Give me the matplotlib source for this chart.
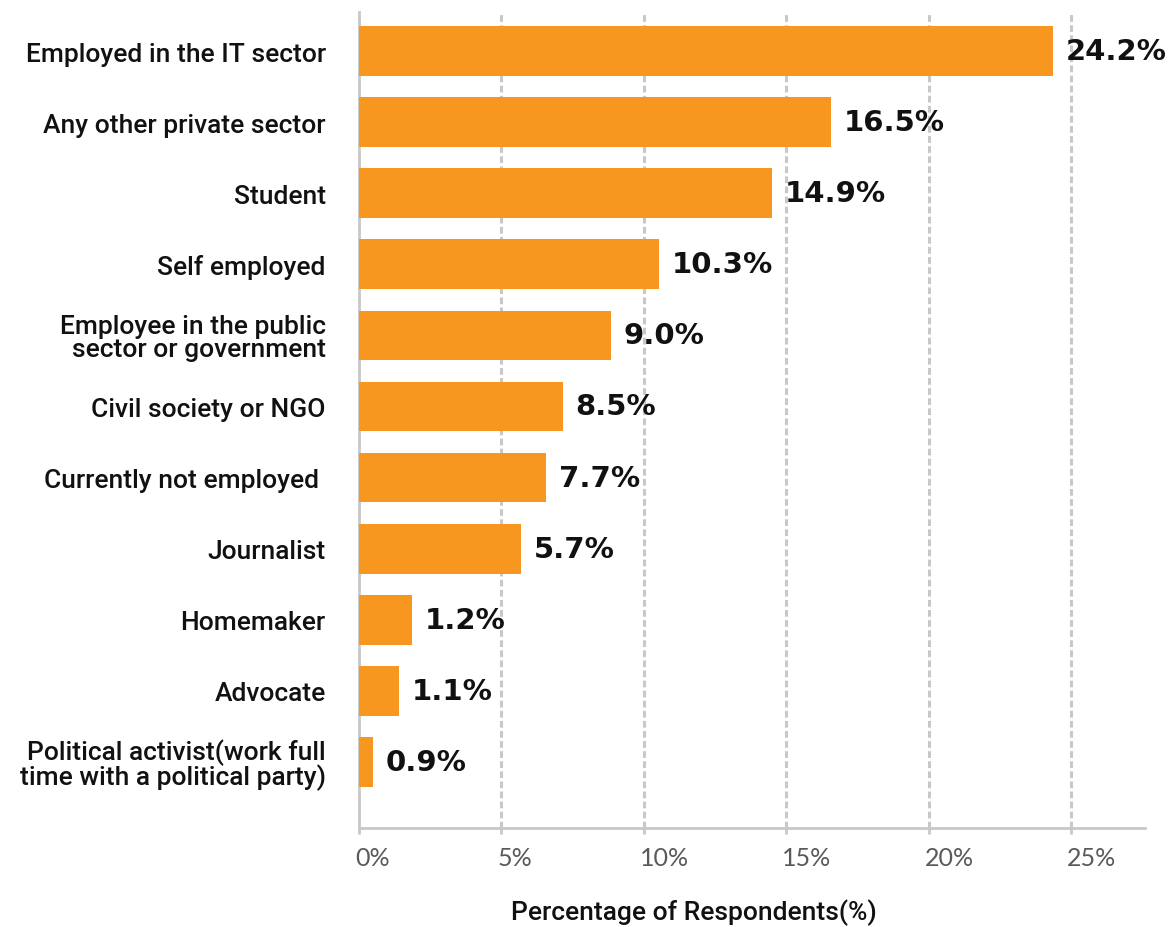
import matplotlib
matplotlib.use("Agg")
import matplotlib.pyplot as plt
import matplotlib.transforms as mtransforms

categories = [
    "Employed in the IT sector",
    "Any other private sector",
    "Student",
    "Self employed",
    "Employee in the public\nsector or government",
    "Civil society or NGO",
    "Currently not employed ",
    "Journalist",
    "Homemaker",
    "Advocate",
    "Political activist(work full\ntime with a political party)",
]
bar_values = [24.37, 16.57, 14.50, 10.53, 8.85, 7.16, 6.57, 5.69, 1.86, 1.40, 0.49]
value_labels = ["24.2%", "16.5%", "14.9%", "10.3%", "9.0%", "8.5%", "7.7%", "5.7%", "1.2%", "1.1%", "0.9%"]
xticks = [0, 5, 10, 15, 20, 25]
xtick_labels = ["0%", "5%", "10%", "15%", "20%", "25%"]

fig = plt.figure(figsize=(11.69, 9.28), dpi=100)
ax = fig.add_axes([359/1169, 1-829/928, (1145-359)/1169, (829-13)/928])

ypos = list(range(len(categories)))
ax.barh(ypos, bar_values, height=0.70, color="#F7971F", zorder=3)
ax.set_ylim(len(categories) - 0.07, -0.55)
ax.set_xlim(0, 27.6)

grid_color = "#c8c8c8"
for t in xticks[1:]:
    ax.axvline(t, color=grid_color, lw=2.2, linestyle=(0, (2.2, 1.1)), zorder=1)

for sp in ["top", "right"]:
    ax.spines[sp].set_visible(False)
for sp in ["left", "bottom"]:
    ax.spines[sp].set_color(grid_color)
    ax.spines[sp].set_linewidth(2)

ax.set_yticks(ypos)
ax.set_yticklabels(categories, fontsize=19, family="Roboto", fontweight="medium",
                   color="#111111", linespacing=0.95)
ax.tick_params(axis="y", length=0, pad=24)

ax.set_xticks(xticks)
ax.set_xticklabels(xtick_labels, fontsize=18, family="Lato", fontweight="normal", color="#5a5a5a")
ax.tick_params(axis="x", length=4, width=2, color=grid_color, pad=9)
offset = mtransforms.ScaledTranslation(-4/100, 0, fig.dpi_scale_trans)
for lbl in ax.get_xticklabels():
    lbl.set_horizontalalignment("left")
    lbl.set_transform(lbl.get_transform() + offset)

for y, v, lab in zip(ypos, bar_values, value_labels):
    ax.annotate(lab, xy=(v, y), xytext=(9, 0), textcoords="offset points",
                ha="left", va="center", fontsize=21, fontweight="bold",
                family="DejaVu Sans", color="#111111", zorder=4)

fig.text(694/1169, 1-913/928, "Percentage of Respondents(%)", ha="center", va="center",
         fontsize=19, family="Roboto", fontweight="medium", color="#111111")

fig.savefig("out.png", dpi=100, facecolor="white")
